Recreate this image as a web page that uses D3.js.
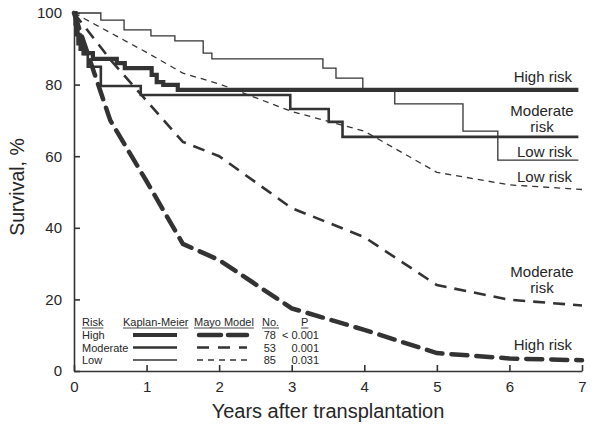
<!DOCTYPE html>
<html><head><meta charset="utf-8">
<script src="https://cdn.jsdelivr.net/npm/d3@7"></script>
<style>
body{margin:0;background:#fff}
svg{display:block}
text{font-family:"Liberation Sans",Arial,Helvetica,sans-serif;fill:#262626}
</style>
</head><body>
<svg id="c" width="600" height="434"></svg>
<script>
// ---- data ----
const xTicks = [0,1,2,3,4,5,6,7];
const yTicks = [0,20,40,60,80,100];

// Kaplan-Meier step curves (years, survival %)
const kmHighT = [0,0.02,0.04,0.06,0.09,0.15,0.26,0.59,0.70,1.07,1.14,1.23,1.43,6.95];
const kmHighS = [100,97,94,91.5,90,88.8,87.2,86.0,84.6,82.7,80.7,79.9,78.5,78.5];
const kmModT  = [0,0.03,0.06,0.09,0.12,0.19,0.37,0.92,2.98,3.51,3.70,6.95];
const kmModS  = [100,97,94,91,88.5,85,79.6,77.1,73.2,69.6,65.4,65.4];
const kmLowT  = [0,0.37,0.69,1.06,1.39,1.78,1.90,3.43,3.61,3.98,4.42,5.36,5.84,6.95];
const kmLowS  = [100,98,95.3,93.6,92.2,88.8,87.2,84.6,81.8,78.5,74.6,67.0,58.9,58.9];

// Mayo model predicted curves
const mayoT    = [0,0.5,1,1.5,2,3,4,5,6,7];
const mayoHigh = [100,70,53,35.5,31,17.5,11.5,5,3.5,3];
const mayoMod  = [100,87,75.5,64,60,45.5,37.4,24,19.9,18.3];
const mayoLow  = [100,94.5,89,83.2,80.2,72.5,67,55.5,52,50.7];

// legend
const legendRisk = ["High","Moderate","Low"];
const legendNo   = ["78","53","85"];
const legendP    = ["< 0.001","0.001","0.031"];
const legendHead = ["Risk","Kaplan-Meier","Mayo Model","No.","P"];

// curve labels (anchored at survival level of their centre)
const curveLabels = [
  {lines:["High risk"], s:82.1},
  {lines:["Moderate","risk"], s:70.4},
  {lines:["Low risk"], s:61.2},
  {lines:["Low risk"], s:54.2},
  {lines:["Moderate","risk"], s:25.3},
  {lines:["High risk"], s:7.3}
];

// ---- drawing ----
const ink = "#333";
const svg = d3.select("#c");
const x = d3.scaleLinear().domain([0,7]).range([74,582]);
const y = d3.scaleLinear().domain([0,100]).range([371,13]);

const xa = svg.append("g").attr("transform","translate(0,371)")
  .call(d3.axisBottom(x).tickValues(xTicks).tickSize(-6).tickSizeOuter(0).tickPadding(10).tickFormat(d3.format("d")));
const ya = svg.append("g").attr("transform","translate(74,0)")
  .call(d3.axisLeft(y).tickValues(yTicks).tickSize(-6).tickSizeOuter(0).tickPadding(12).tickFormat(d3.format("d")));
[xa,ya].forEach(a=>{
  a.selectAll("path,line").attr("stroke",ink).attr("stroke-width",1.6);
  a.selectAll("text").attr("font-size",15).attr("fill","#262626").attr("font-family",'"Liberation Sans",Arial,sans-serif');
});

svg.append("text").attr("x",328).attr("y",418).attr("text-anchor","middle")
  .attr("font-size",20).text("Years after transplantation");
svg.append("text").attr("transform","translate(24,187) rotate(-90)").attr("text-anchor","middle")
  .attr("font-size",19.5).text("Survival, %");

const zip = (T,S)=>T.map((t,i)=>[t,S[i]]);
const step = d3.line().x(d=>x(d[0])).y(d=>y(d[1])).curve(d3.curveStepAfter);
const lin = d3.line().x(d=>x(d[0])).y(d=>y(d[1]));

const series = [
  {d:zip(mayoT,mayoLow), gen:lin, w:1.3, dash:"6,5", cap:"butt"},
  {d:zip(mayoT,mayoMod), gen:lin, w:2.6, dash:"12,8", cap:"butt"},
  {d:zip(mayoT,mayoHigh), gen:lin, w:4.5, dash:"16,9", cap:"round"},
  {d:zip(kmLowT,kmLowS), gen:step, w:1.3, dash:null},
  {d:zip(kmModT,kmModS), gen:step, w:2.6, dash:null},
  {d:zip(kmHighT,kmHighS), gen:step, w:4.2, dash:null}
];
series.forEach(s=>{
  svg.append("path").attr("d",s.gen(s.d)).attr("fill","none").attr("stroke",ink)
    .attr("stroke-width",s.w).attr("stroke-dasharray",s.dash).attr("stroke-linecap",s.cap||"butt")
    .attr("stroke-linejoin","miter");
});

// curve labels
curveLabels.forEach(l=>{
  const n = l.lines.length;
  l.lines.forEach((txt,i)=>{
    svg.append("text").attr("x", n>1 ? 542 : 572).attr("y", y(l.s)+16*(i-(n-1)/2)+5)
      .attr("text-anchor", n>1 ? "middle":"end").attr("font-size",15).text(txt);
  });
});

// legend
const lg = svg.append("g").attr("font-size",11);
const headX = [82,123,194,262,301];
const headY = 326;
legendHead.forEach((h,i)=>{
  const t = lg.append("text").attr("x",headX[i]).attr("y",headY).attr("font-size",11).text(h);
  const w = t.node().getComputedTextLength();
  lg.append("line").attr("x1",headX[i]).attr("x2",headX[i]+w).attr("y1",headY+2).attr("y2",headY+2)
    .attr("stroke",ink).attr("stroke-width",0.9);
});
const rowY = [335,347.5,360];
const kmW = [4.2,2.6,1.3], myW=[4.5,2.6,1.3], myDash=["22,7","12,9","6,5"], myCap=["round","butt","butt"];
legendRisk.forEach((r,i)=>{
  lg.append("text").attr("x",82).attr("y",rowY[i]+4).attr("font-size",11).text(r);
  lg.append("line").attr("x1",133).attr("x2",177).attr("y1",rowY[i]).attr("y2",rowY[i])
    .attr("stroke",ink).attr("stroke-width",kmW[i]);
  lg.append("line").attr("x1",myCap[i]==="round"?199:197).attr("x2",247).attr("y1",rowY[i]).attr("y2",rowY[i])
    .attr("stroke",ink).attr("stroke-width",myW[i]).attr("stroke-dasharray",myDash[i]).attr("stroke-linecap",myCap[i]);
  lg.append("text").attr("x",276).attr("y",rowY[i]+4).attr("text-anchor","end").attr("font-size",11).text(legendNo[i]);
  lg.append("text").attr("x",319).attr("y",rowY[i]+4).attr("text-anchor","end").attr("font-size",11).text(legendP[i]);
});
</script>
</body></html>
